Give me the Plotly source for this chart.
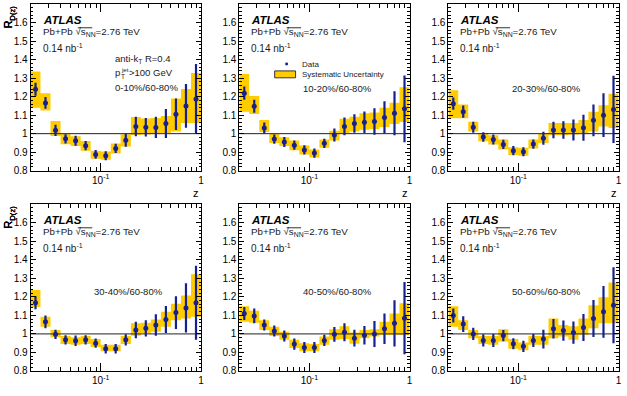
import math
import plotly.graph_objects as go

W, H = 627, 396

# ---------------- data ----------------
z_edges = [0.02, 0.0251, 0.0316, 0.0398, 0.0501, 0.0631, 0.0794, 0.1, 0.126,
           0.158, 0.2, 0.251, 0.316, 0.398, 0.501, 0.631, 0.794, 1.0]

cent_labels = ["0-10%/60-80%", "10-20%/60-80%", "20-30%/60-80%",
               "30-40%/60-80%", "40-50%/60-80%", "50-60%/60-80%"]

r_0_10 = [1.240, 1.166, 1.018, 0.972, 0.962, 0.935, 0.888, 0.881, 0.920, 0.964,
          1.039, 1.035, 1.034, 1.055, 1.105, 1.150, 1.188]
stat_0_10 = [0.035, 0.032, 0.030, 0.025, 0.027, 0.025, 0.024, 0.024, 0.025, 0.035,
             0.053, 0.050, 0.057, 0.078, 0.085, 0.118, 0.188]
syslo_0_10 = [1.140, 1.125, 0.987, 0.943, 0.934, 0.908, 0.864, 0.859, 0.893, 0.930,
              0.993, 0.995, 0.998, 1.004, 1.012, 1.057, 1.057]
syshi_0_10 = [1.336, 1.218, 1.069, 0.998, 0.986, 0.960, 0.908, 0.904, 0.947, 0.997,
              1.090, 1.082, 1.085, 1.095, 1.190, 1.242, 1.328]

r_10_20 = [1.219, 1.148, 1.030, 0.971, 0.955, 0.938, 0.912, 0.895, 0.948, 0.993,
           1.039, 1.055, 1.062, 1.066, 1.088, 1.110, 1.134]
stat_10_20 = [0.036, 0.035, 0.030, 0.025, 0.027, 0.025, 0.025, 0.025, 0.025, 0.035,
              0.048, 0.050, 0.058, 0.072, 0.087, 0.119, 0.180]
syslo_10_20 = [1.119, 1.106, 1.009, 0.950, 0.933, 0.910, 0.888, 0.871, 0.924, 0.963,
               0.998, 1.012, 1.021, 1.025, 1.036, 1.052, 1.063]
syshi_10_20 = [1.322, 1.204, 1.074, 0.998, 0.981, 0.963, 0.936, 0.915, 0.968, 1.016,
               1.080, 1.092, 1.110, 1.115, 1.140, 1.167, 1.251]

r_20_30 = [1.162, 1.119, 1.035, 0.982, 0.968, 0.942, 0.908, 0.902, 0.944, 0.975,
           1.020, 1.020, 1.020, 1.032, 1.072, 1.100, 1.131]
stat_20_30 = [0.033, 0.033, 0.030, 0.025, 0.027, 0.025, 0.025, 0.024, 0.025, 0.035,
              0.045, 0.047, 0.057, 0.070, 0.086, 0.118, 0.182]
syslo_20_30 = [1.083, 1.083, 1.012, 0.959, 0.942, 0.915, 0.885, 0.880, 0.920, 0.950,
               0.991, 0.991, 0.995, 0.998, 1.012, 1.039, 1.030]
syshi_20_30 = [1.234, 1.158, 1.065, 1.004, 0.991, 0.968, 0.927, 0.924, 0.968, 0.998,
               1.057, 1.057, 1.057, 1.074, 1.119, 1.154, 1.216]

r_30_40 = [1.168, 1.065, 0.998, 0.968, 0.963, 0.968, 0.950, 0.920, 0.920, 0.968,
           1.021, 1.030, 1.048, 1.078, 1.115, 1.140, 1.168]
stat_30_40 = [0.035, 0.035, 0.025, 0.025, 0.028, 0.025, 0.025, 0.025, 0.025, 0.030,
              0.044, 0.044, 0.058, 0.073, 0.088, 0.133, 0.200]
syslo_30_40 = [1.145, 1.039, 0.982, 0.945, 0.942, 0.945, 0.929, 0.906, 0.906, 0.945,
               0.990, 1.004, 1.012, 1.039, 1.074, 1.083, 1.092]
syshi_30_40 = [1.237, 1.092, 1.021, 0.989, 0.982, 0.989, 0.972, 0.942, 0.942, 0.989,
               1.057, 1.060, 1.078, 1.119, 1.163, 1.207, 1.322]

r_40_50 = [1.110, 1.097, 1.048, 1.016, 0.989, 0.945, 0.927, 0.927, 0.965, 0.998,
           1.009, 0.977, 0.993, 1.000, 1.028, 1.057, 1.085]
stat_40_50 = [0.035, 0.040, 0.030, 0.030, 0.030, 0.030, 0.030, 0.030, 0.030, 0.040,
              0.048, 0.045, 0.050, 0.070, 0.082, 0.125, 0.195]
syslo_40_50 = [1.065, 1.060, 1.021, 0.989, 0.968, 0.924, 0.906, 0.906, 0.942, 0.968,
               0.972, 0.947, 0.977, 0.986, 0.995, 0.995, 0.995]
syshi_40_50 = [1.149, 1.125, 1.074, 1.039, 1.012, 0.968, 0.950, 0.945, 0.986, 1.025,
               1.042, 1.007, 1.021, 1.025, 1.065, 1.110, 1.166]

r_50_60 = [1.099, 1.053, 1.000, 0.965, 0.965, 0.991, 0.947, 0.933, 0.965, 0.972,
           1.028, 1.018, 1.007, 1.035, 1.083, 1.119, 1.154]
stat_50_60 = [0.038, 0.042, 0.033, 0.033, 0.035, 0.030, 0.030, 0.030, 0.035, 0.050,
              0.053, 0.055, 0.060, 0.073, 0.100, 0.140, 0.205]
syslo_50_60 = [1.039, 1.021, 0.977, 0.945, 0.942, 0.959, 0.920, 0.912, 0.942, 0.942,
               0.977, 0.986, 0.968, 0.995, 1.030, 1.057, 1.057]
syshi_50_60 = [1.149, 1.074, 1.021, 0.989, 0.989, 1.025, 0.972, 0.954, 0.989, 0.989,
               1.083, 1.048, 1.042, 1.083, 1.154, 1.198, 1.278]

y_ticks = [0.8, 0.9, 1.0, 1.1, 1.2, 1.3, 1.4, 1.5, 1.6]
y_ticktext = ["0.8", "0.9", "1", "1.1", "1.2", "1.3", "1.4", "1.5", "1.6"]
x_ticks = [0.1, 1.0]
x_ticktext = ["10<sup>-1</sup>", "1"]

panels = [
    (r_0_10, stat_0_10, syslo_0_10, syshi_0_10),
    (r_10_20, stat_10_20, syslo_10_20, syshi_10_20),
    (r_20_30, stat_20_30, syslo_20_30, syshi_20_30),
    (r_30_40, stat_30_40, syslo_30_40, syshi_30_40),
    (r_40_50, stat_40_50, syslo_40_50, syshi_40_50),
    (r_50_60, stat_50_60, syslo_50_60, syshi_50_60),
]

# ---------------- layout geometry (pixels) ----------------
x_pix = [(30.7, 202.0), (240.5, 411.5), (450.5, 621.5)]
y_pix = [(4.2, 173.3), (207.3, 376.7)]

FONT = "Liberation Sans, Arial, Helvetica, sans-serif"
YELLOW = "#ffcc00"
BLUE = "#16208f"
TXT = "#1a1a1a"


def px(x):
    return x / W


def py(y):
    return 1 - y / H


fig = go.Figure()
annotations = []
shapes = []


def note(x, y, text, size=10, xanchor="left", color=TXT, **kw):
    annotations.append(dict(x=px(x), y=py(y), xref="paper", yref="paper", text=text,
                            showarrow=False, xanchor=xanchor, yanchor="middle",
                            font=dict(family=FONT, size=size, color=color), **kw))


minor_x = [0.02, 0.03, 0.04, 0.05, 0.06, 0.07, 0.08, 0.09,
           0.2, 0.3, 0.4, 0.5, 0.6, 0.7, 0.8, 0.9]

z_lo = z_edges[:-1]
z_hi = z_edges[1:]
z_mid = [math.sqrt(a * b) for a, b in zip(z_lo, z_hi)]

for i, (vals, stat, slo, shi) in enumerate(panels):
    row, col = divmod(i, 3)
    n = i + 1
    xa = "x" if n == 1 else f"x{n}"
    ya = "y" if n == 1 else f"y{n}"
    # systematic boxes
    bx, by = [], []
    for a, b, lo, hi in zip(z_lo, z_hi, slo, shi):
        bx += [a, b, b, a, a, None]
        by += [lo, lo, hi, hi, lo, None]
    fig.add_trace(go.Scatter(x=bx, y=by, mode="lines", fill="toself",
                             fillcolor=YELLOW, line=dict(width=0, color=YELLOW),
                             xaxis=xa, yaxis=ya, showlegend=False, hoverinfo="skip"))
    # unity line
    fig.add_trace(go.Scatter(x=[z_edges[0], z_edges[-1]], y=[1, 1], mode="lines",
                             line=dict(color="#222222", width=1),
                             xaxis=xa, yaxis=ya, showlegend=False, hoverinfo="skip"))
    # data points
    fig.add_trace(go.Scatter(x=z_mid, y=vals, mode="markers",
                             marker=dict(color=BLUE, size=5),
                             error_y=dict(type="data", array=stat, color=BLUE,
                                          thickness=2.2, width=0),
                             xaxis=xa, yaxis=ya, showlegend=False))

    x0, x1 = x_pix[col]
    y0, y1 = y_pix[row]
    axis_common = dict(showline=True, linecolor="black", linewidth=1, mirror="allticks",
                       ticks="inside", tickcolor="black", showgrid=False, zeroline=False,
                       tickfont=dict(family=FONT, size=10, color="black"))
    fig.update_layout(**{
        ("xaxis" if n == 1 else f"xaxis{n}"): dict(
            type="log", range=[math.log10(z_edges[0]), math.log10(z_edges[-1])],
            domain=[px(x0), px(x1)], anchor=ya,
            tickvals=x_ticks, ticktext=x_ticktext, ticklen=8,
            minor=dict(tickvals=minor_x, ticklen=4, ticks="inside", tickcolor="black"),
            **axis_common),
        ("yaxis" if n == 1 else f"yaxis{n}"): dict(
            range=[0.8, 1.7], domain=[py(y1), py(y0)], anchor=xa,
            tickvals=y_ticks, ticktext=y_ticktext, ticklen=5,
            minor=dict(dtick=0.02, ticklen=2.5, ticks="inside", tickcolor="black"),
            **axis_common),
    })

    # y title
    annotations.append(dict(x=px(9), y=py(y0 - 1), xref="paper", yref="paper",
                            text="R<sub>D(z)</sub>", textangle=-90, showarrow=False,
                            xanchor="center", yanchor="top",
                            font=dict(family=FONT, size=11, color="black")))
    if row == 0:
        note(x1, 196, "z", size=11, xanchor="right", color="black")
    lx = x0 + 10
    note(lx, y0 + 16, "<b><i>ATLAS</i></b>", size=11.5, color="black")
    note(lx, y0 + 28, "Pb+Pb \u221as<sub>NN</sub>=2.76 TeV", size=9.8)
    # radical overline over s_NN
    shapes.append(dict(type="line", xref="paper", yref="paper",
                       x0=px(lx + 37.5), x1=px(lx + 52), y0=py(y0 + 24.0), y1=py(y0 + 24.0),
                       line=dict(color=TXT, width=0.9)))
    note(lx, y0 + 45, "0.14 nb<sup>-1</sup>", size=10)
    if i == 0:
        bx0 = x0 + 83
        note(bx0, 60, "anti-k<sub>T</sub> R=0.4", size=9.5)
        note(bx0, 74, "p", size=9.5)
        note(bx0 + 5.5, 70.5, "jet", size=6.2)
        note(bx0 + 5.5, 77.5, "T", size=6.5)
        note(bx0 + 14, 74, "&gt;100 GeV", size=9.5)
        note(bx0, 89, cent_labels[i], size=9.5)
    else:
        note(x0 + 62, y0 + (86 if row == 0 else 89), cent_labels[i], size=9.5)

# legend in panel 2
shapes.append(dict(type="circle", xref="paper", yref="paper",
                   x0=px(286.5), x1=px(289.5), y0=py(66.5), y1=py(63.5),
                   fillcolor=BLUE, line=dict(width=0)))
shapes.append(dict(type="rect", xref="paper", yref="paper",
                   x0=px(276), x1=px(297), y0=py(79), y1=py(72),
                   fillcolor=YELLOW, line=dict(width=1, color="#333333")))
note(301, 65, "Data", size=8)
note(301, 75.5, "Systematic Uncertainty", size=8)

fig.update_layout(width=W, height=H, autosize=False,
                  margin=dict(l=0, r=0, t=0, b=0),
                  paper_bgcolor="white", plot_bgcolor="white",
                  annotations=annotations, shapes=shapes, showlegend=False)

fig.write_html("out.html")
